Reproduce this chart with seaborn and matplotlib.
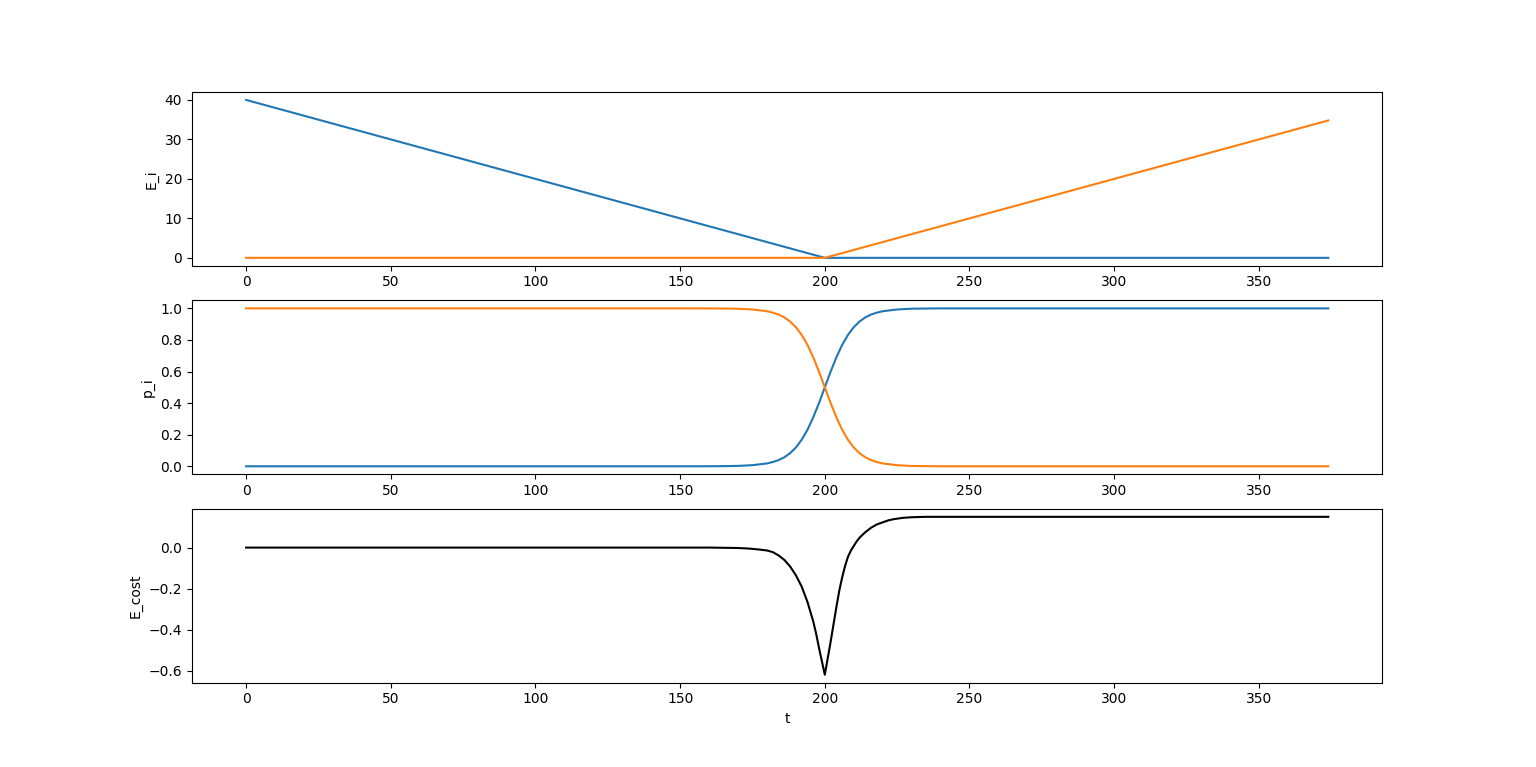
import matplotlib
matplotlib.use('Agg')
import matplotlib.pyplot as plt
import seaborn as sns

# E_i: two energies (linear pieces, breakpoints)
t_energy = [0, 200, 374]
e_blue = [40, 0, 0]
e_orange = [0, 0, 34.8]

# p_i: probabilities around the crossover at t=200
t_prob = [0, 150, 160, 165, 170, 175, 180, 182, 184, 186, 188, 190, 192, 194, 196, 198,
          200, 202, 204, 206, 208, 210, 212, 214, 216, 218, 220, 225, 230, 235, 240, 250, 374]
p_blue = [0.0, 0.0, 0.0003, 0.0009, 0.0025, 0.007, 0.018, 0.027, 0.039, 0.057, 0.083, 0.119,
          0.168, 0.231, 0.310, 0.401, 0.5, 0.599, 0.690, 0.769, 0.832, 0.881, 0.917, 0.943,
          0.961, 0.973, 0.982, 0.993, 0.998, 0.999, 1.0, 1.0, 1.0]
p_orange = [1.0, 1.0, 0.9997, 0.9991, 0.9975, 0.993, 0.982, 0.973, 0.961, 0.943, 0.917, 0.881,
            0.832, 0.769, 0.690, 0.599, 0.5, 0.401, 0.310, 0.231, 0.168, 0.119, 0.083, 0.057,
            0.039, 0.027, 0.018, 0.007, 0.002, 0.001, 0.0, 0.0, 0.0]

# E_cost
t_cost = [0, 160, 165, 170, 174, 177, 180, 182, 184, 186, 188, 190, 192, 194, 196, 197,
          198, 199, 200, 201, 202, 203, 204, 205, 206, 207, 208, 209, 210, 211, 212, 213,
          214, 216, 218, 220, 222, 224, 227, 230, 235, 240, 374]
e_cost = [0.0, 0.0, -0.001, -0.002, -0.005, -0.009, -0.014, -0.022, -0.038, -0.06, -0.092,
          -0.135, -0.19, -0.265, -0.36, -0.42, -0.49, -0.555, -0.62, -0.54, -0.46, -0.375,
          -0.29, -0.21, -0.145, -0.09, -0.045, -0.015, 0.008, 0.03, 0.048, 0.062, 0.075,
          0.097, 0.113, 0.123, 0.133, 0.139, 0.145, 0.148, 0.15, 0.15, 0.15]

fig, axes = plt.subplots(3, 1, figsize=(15.36, 7.67), dpi=100)

sns.lineplot(x=t_energy, y=e_blue, ax=axes[0], color='#1f77b4')
sns.lineplot(x=t_energy, y=e_orange, ax=axes[0], color='#ff7f0e')
axes[0].set_ylabel('E_i')

sns.lineplot(x=t_prob, y=p_blue, ax=axes[1], color='#1f77b4')
sns.lineplot(x=t_prob, y=p_orange, ax=axes[1], color='#ff7f0e')
axes[1].set_ylabel('p_i')

sns.lineplot(x=t_cost, y=e_cost, ax=axes[2], color='black')
axes[2].set_ylabel('E_cost')
axes[2].set_xlabel('t')

plt.savefig('out.png')
